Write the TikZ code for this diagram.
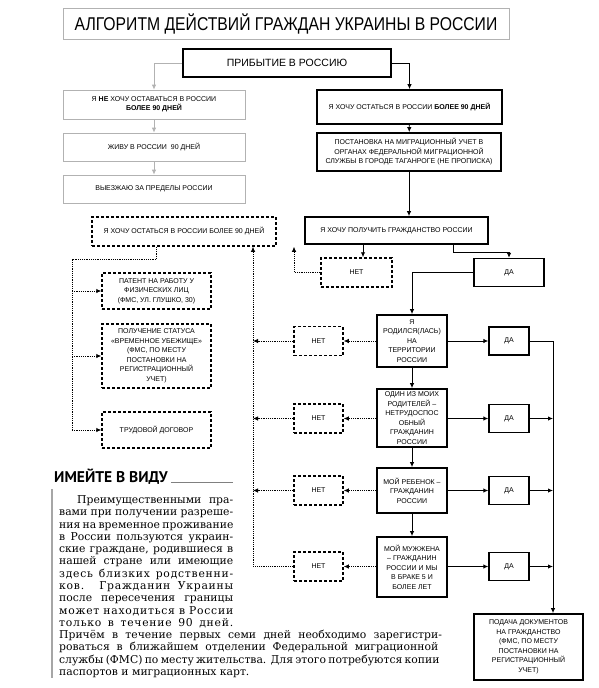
\documentclass[tikz,border=0pt]{standalone}
\usepackage{fontspec}
\setmainfont{Liberation Sans}
\newfontfamily\titlefont[FakeStretch=0.85]{Liberation Sans}
\newfontfamily\headfont{PT Sans}
\newfontfamily\notefont{DejaVu Serif}
\newcommand\spaced[1]{{\addfontfeature{LetterSpace=7}#1}}
\usetikzlibrary{arrows.meta}

\tikzset{
  boxtext/.style={font=\fontsize{7}{9.5}\selectfont, align=center, inner sep=1pt},
  mainbox/.style={boxtext, draw, line width=1.8pt},
  greybox/.style={boxtext, draw=gray!60, line width=0.7pt},
  answer/.style={boxtext, draw, line width=1.4pt, minimum width=40, minimum height=28},
  dashbox/.style={boxtext, draw, line width=1.5pt, dash pattern=on 3pt off 2pt},
  link/.style={->, line width=0.9pt},
  greylink/.style={->, draw=gray!60, line width=0.8pt},
  dotline/.style={line width=0.8pt, dash pattern=on 1.2pt off 1pt},
  dotlink/.style={dotline, ->},
}

\begin{document}
\begin{tikzpicture}[x=1pt, y=-1pt, >={Latex[length=5pt,width=4.5pt]}]
  \useasboundingbox (0,0) rectangle (598,688);

  \node[greybox, minimum width=446, minimum height=31,
        font=\titlefont\fontsize{18.5}{18.5}\selectfont] (title) at (286,23.5)
        {АЛГОРИТМ ДЕЙСТВИЙ ГРАЖДАН УКРАИНЫ В РОССИИ};
  \node[mainbox, minimum width=208, minimum height=28,
        font=\fontsize{10.5}{12}\selectfont] (arrive) at (287,63) {ПРИБЫТИЕ В РОССИЮ};

  % left branch
  \node[greybox, minimum width=182, minimum height=29] (nostay) at (154,104.5)
        {Я \textbf{НЕ} ХОЧУ ОСТАВАТЬСЯ В РОССИИ\\\textbf{БОЛЕЕ 90 ДНЕЙ}};
  \node[greybox, minimum width=182, minimum height=28] (live) at (154,147) {ЖИВУ В РОССИИ\ \ 90 ДНЕЙ};
  \node[greybox, minimum width=182, minimum height=28] (leave) at (154,189) {ВЫЕЗЖАЮ ЗА ПРЕДЕЛЫ РОССИИ};

  % right branch
  \node[mainbox, minimum width=185, minimum height=34] (stay) at (409.5,107)
        {Я ХОЧУ ОСТАТЬСЯ В РОССИИ \textbf{БОЛЕЕ 90 ДНЕЙ}};
  \node[mainbox, minimum width=184, minimum height=38] (reg) at (409,152)
        {ПОСТАНОВКА НА МИГРАЦИОННЫЙ УЧЕТ В\\ОРГАНАХ ФЕДЕРАЛЬНОЙ МИГРАЦИОННОЙ\\СЛУЖБЫ В ГОРОДЕ ТАГАНРОГЕ (НЕ ПРОПИСКА)};
  \node[mainbox, minimum width=183, minimum height=27] (citizen) at (396.5,230.5)
        {Я ХОЧУ ПОЛУЧИТЬ ГРАЖДАНСТВО РОССИИ};
  \node[dashbox, minimum width=184, minimum height=29] (stayalt) at (184,231.5)
        {Я ХОЧУ ОСТАТЬСЯ В РОССИИ БОЛЕЕ 90 ДНЕЙ};

  \node[dashbox, minimum width=71, minimum height=29] (no1) at (356.5,272.5) {НЕТ};
  \node[answer, minimum width=70] (yes1) at (509,272.5) {ДА};

  % conditions
  \node[mainbox, minimum width=70, minimum height=52] (born) at (412,341)
        {Я\\РОДИЛСЯ(ЛАСЬ)\\НА\\ТЕРРИТОРИИ\\РОССИИ};
  \node[mainbox, minimum width=70, minimum height=58] (parent) at (412,418)
        {ОДИН ИЗ МОИХ\\РОДИТЕЛЕЙ –\\НЕТРУДОСПОС\\ОБНЫЙ\\ГРАЖДАНИН\\РОССИИ};
  \node[mainbox, minimum width=70, minimum height=45] (child) at (412,490.5)
        {МОЙ РЕБЕНОК –\\ГРАЖДАНИН\\РОССИИ};
  \node[mainbox, minimum width=70, minimum height=60] (spouse) at (412,567)
        {МОЙ МУЖЖЕНА\\– ГРАЖДАНИН\\РОССИИ И МЫ\\В БРАКЕ 5 И\\БОЛЕЕ ЛЕТ};

  \foreach \n/\y in {2/341, 3/418.5, 4/490.5, 5/566.5} {
    \node[answer] (yes\n) at (509,\y) {ДА};
    \node[dashbox, minimum width=49, minimum height=29] (no\n) at (318.5,\y) {НЕТ};
  }

  \node[mainbox, minimum width=109, minimum height=66] (submit) at (528.5,647)
        {ПОДАЧА ДОКУМЕНТОВ\\НА ГРАЖДАНСТВО\\(ФМС, ПО МЕСТУ\\ПОСТАНОВКИ НА\\РЕГИСТРАЦИОННЫЙ\\УЧЕТ)};

  % other ways to stay
  \node[dashbox, minimum width=109, minimum height=36] (patent) at (156.5,291)
        {ПАТЕНТ НА РАБОТУ У\\ФИЗИЧЕСКИХ ЛИЦ\\(ФМС, УЛ. ГЛУШКО, 30)};
  \node[dashbox, minimum width=109, minimum height=64] (refuge) at (156.5,356)
        {ПОЛУЧЕНИЕ СТАТУСА\\«ВРЕМЕННОЕ УБЕЖИЩЕ»\\(ФМС, ПО МЕСТУ\\ПОСТАНОВКИ НА\\РЕГИСТРАЦИОННЫЙ\\УЧЕТ)};
  \node[dashbox, minimum width=109, minimum height=36] (contract) at (156.5,430) {ТРУДОВОЙ ДОГОВОР};

  \coordinate (bus) at (553,0);
  \coordinate (rail) at (253,0);
  \coordinate (lrail) at (72,0);

  % connectors
  \draw[greylink] (arrive.west) -| (nostay.north);
  \draw[link] (arrive.east) -| (stay.north);
  \draw[greylink] (nostay) -- (live);
  \draw[greylink] (live) -- (leave);
  \draw[link] (stay) -- (reg);
  \draw[link] (reg.south) -- (reg.south |- citizen.north);
  \draw[link] ([xshift=6.5]no1.north |- citizen.south) -- ([xshift=6.5]no1.north);
  \draw[link] ([xshift=56.5]citizen.south) -- ++(0,8) -| (yes1.north);
  \draw[link] (yes1.west) -| (born.north);
  \draw[link] (born) -- (parent);
  \draw[link] (parent) -- (child);
  \draw[link] (child) -- (spouse);

  \foreach \c/\n in {born/2, parent/3, child/4, spouse/5} {
    \draw[link] (\c.east |- yes\n) -- (yes\n.west);
    \draw[dotlink] (\c.west |- no\n) -- (no\n.east);
  }
  \draw[link] (yes2.east) -| (bus |- submit.north);
  \foreach \n in {3,4,5}
    \draw[link] (yes\n.east) -- (yes\n.east -| bus);

  \foreach \n in {2,3,4}
    \draw[dotlink] (no\n.west) -- (no\n.west -| rail);
  \draw[dotlink] (no5.west) -| (rail |- stayalt.south);
  \draw[dotlink] (no1.west) -| ([xshift=110]stayalt.south);

  \draw[dotline] ([xshift=-28]stayalt.south) -- ++(0,13) -| (lrail |- contract.west);
  \foreach \b in {patent,refuge,contract}
    \draw[dotlink] (lrail |- \b.west) -- (\b.west);

  % note
  \node[anchor=base west, inner sep=0, font=\headfont\bfseries\fontsize{15.5}{16}\selectfont] (keep) at (54,482)
        {ИМЕЙТЕ В ВИДУ};
  \coordinate (keepend) at (233,482);
  \draw[gray, line width=0.6pt] ([xshift=3]keep.base east) -- (keepend);
  \draw[gray!70, line width=1.2pt] (52,489) -- (52,678);

  \node[anchor=north west, inner sep=0, align=left,
        font=\notefont\fontsize{10.8}{12.27}\selectfont] (note) at (59,495.5)
        {\hspace*{18pt}\makebox[156pt][s]{Преимущественными пра-}\\
         \makebox[174pt][s]{вами при получении разреше-}\\
         \makebox[174pt][s]{ния на временное проживание}\\
         \makebox[174pt][s]{в России пользуются украин-}\\
         \makebox[174pt][s]{ские граждане, родившиеся в}\\
         \makebox[174pt][s]{нашей стране или имеющие}\\
         \makebox[174pt][s]{\spaced{здесь близких родственни-}}\\
         \makebox[174pt][s]{\spaced{ков. Гражданин Украины}}\\
         \makebox[174pt][s]{после пересечения границы}\\
         \makebox[174pt][s]{\spaced{может находиться в России}}\\
         \makebox[174pt][s]{\spaced{только в течение 90 дней.}}\\
         \makebox[379pt][s]{Причём в течение первых семи дней необходимо зарегистри}-\\
         \makebox[379pt][s]{роваться в ближайшем отделении Федеральной миграционной}\\
         \makebox[378pt][s]{службы (ФМС) по месту жительства. Для этого потребуются копии}\\
         паспортов и миграционных карт.};
\end{tikzpicture}
\end{document}
